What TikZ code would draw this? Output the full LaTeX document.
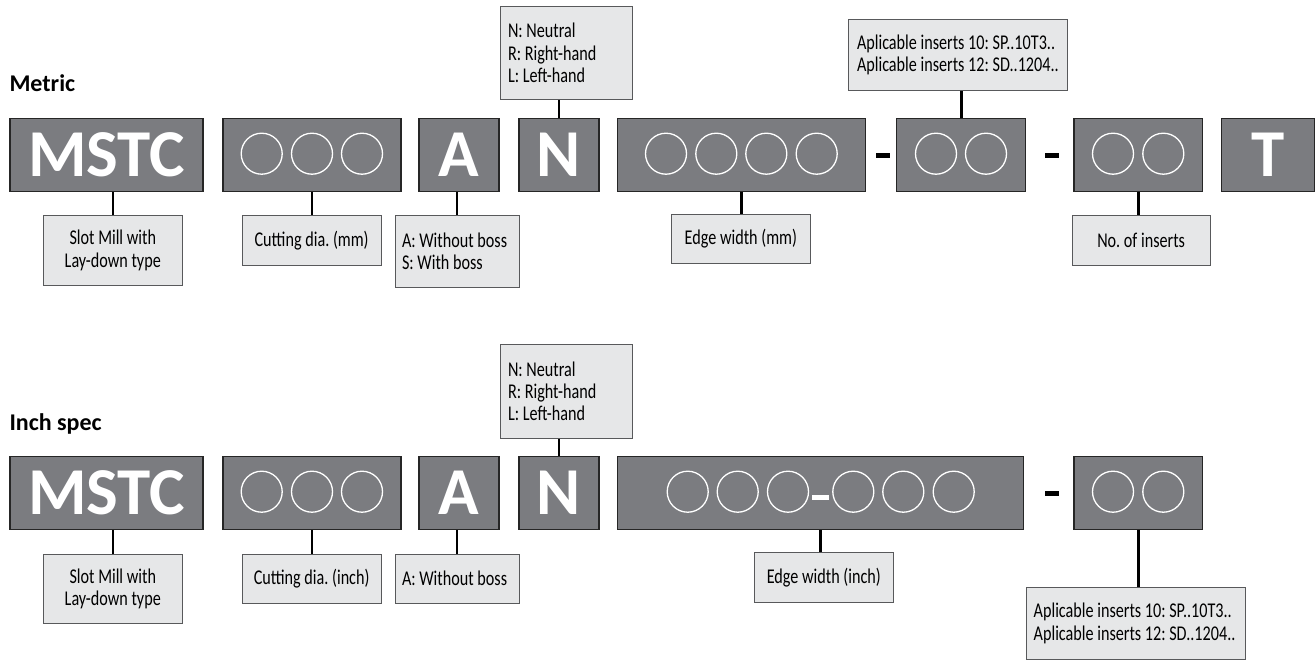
\documentclass[tikz,border=0pt]{standalone}
\usepackage{fontspec}
\setmainfont{Carlito}
\newfontfamily\lblfamily{Carlito}[FakeStretch=0.77]
\newfontfamily\bigfamily{Carlito}
\frenchspacing
\definecolor{codegray}{HTML}{7B7C80}
\definecolor{lblgray}{HTML}{E6E7E8}
\definecolor{lbledge}{HTML}{58595B}
\newcommand{\lblsetup}{\lblfamily\fontsize{21}{22.3}\selectfont}
\begin{document}
\begin{tikzpicture}[x=1pt,y=-1pt,
  code/.style={fill=codegray, draw=black!85, line width=1.2pt, inner sep=0pt, text=white,
    font=\bigfamily\bfseries\fontsize{67}{67}\selectfont, minimum height=73.4pt},
  lbl/.style={fill=lblgray, draw=lbledge, line width=1pt, inner sep=0pt,
    font=\lblsetup, align=center},
  lbltext/.style={inner sep=0pt, font=\lblsetup, align=left, anchor=west},
  conn/.style={line width=2.6pt, black},
  slot/.style={draw=white, line width=1.3pt},
  hy/.style={line width=5pt, black},
  hyw/.style={line width=5pt, white},
  title/.style={anchor=base west, inner sep=0pt, font=\bfseries\fontsize{24}{24}\selectfont}]
\useasboundingbox (0,0) rectangle (1316,664);
\fill[white] (0,0) rectangle (1316,664);

% ---------------- Metric ----------------
\node[title] (t1) at (9.3,91.7) {Metric};

\node[code, minimum width=193pt]   (m1) at (106.5,155) {MSTC};
\node[code, minimum width=178pt]   (m2) at (312,155) {};
\node[code, minimum width=80pt]    (m3) at (459,155) {A};
\node[code, minimum width=80pt]    (m4) at (559,155) {N};
\node[code, minimum width=247.6pt] (m5) at (741.5,155) {};
\node[code, minimum width=129pt]   (m6) at (961.2,155) {};
\node[code, minimum width=128.7pt] (m7) at (1138.35,155) {};
\node[code, minimum width=93pt]    (m8) at (1268.2,155) {T};

\foreach \x in {261.7,312,362,666,716.3,766.3,816.7,936,986,1113,1163.3}
  \draw[slot] (\x,153.7) circle[radius=20.5pt];
\draw[hy] (876,155.8) -- (890,155.8);
\draw[hy] (1045,155.8) -- (1059,155.8);

\node[lbl, minimum width=139pt, minimum height=70.7pt] (l1) at (112.8,250.35) {Slot Mill with\\Lay-down type};
\node[lbl, minimum width=138.7pt, minimum height=49.7pt] (l2) at (311.65,240.15) {Cutting dia. (mm)};
\node[lbl, minimum width=123.7pt, minimum height=72pt] (l3) at (457.15,251) {};
\node[lbltext] (l3t) at ([xshift=7pt]l3.west) {A: Without boss\\S: With boss};
\node[lbl, minimum width=132pt, minimum height=93pt] (l4) at (566.3,52.8) {};
\node[lbltext] (l4t) at ([xshift=8pt]l4.west) {N: Neutral\\R: Right-hand\\L: Left-hand};
\node[lbl, minimum width=138.3pt, minimum height=48.6pt] (l5) at (740.85,239) {Edge width (mm)};
\node[lbl, minimum width=219pt, minimum height=71pt] (l6) at (957.8,55.2) {};
\node[lbltext] (l6t) at ([xshift=9pt]l6.west) {Aplicable inserts 10: SP..10T3..\\Aplicable inserts 12: SD..1204..};
\node[lbl, minimum width=138.3pt, minimum height=49.3pt] (l7) at (1141.15,240.35) {No. of inserts};

\draw[conn] (l1.north) -- (l1.north |- m1.south);
\draw[conn] (m2.south) -- (m2.south |- l2.north);
\draw[conn] (l3.north) -- (l3.north |- m3.south);
\draw[conn] (m4.north) -- (m4.north |- l4.south);
\draw[conn] (m5.south) -- (m5.south |- l5.north);
\draw[conn] (m6.north) -- (m6.north |- l6.south);
\draw[conn] (m7.south) -- (m7.south |- l7.north);

% ---------------- Inch spec ----------------
\node[title] (t2) at (9.3,430) {Inch spec};

\node[code, minimum width=193pt]   (i1) at (106.5,493) {MSTC};
\node[code, minimum width=178pt]   (i2) at (312,493) {};
\node[code, minimum width=80pt]    (i3) at (459,493) {A};
\node[code, minimum width=80pt]    (i4) at (559,493) {N};
\node[code, minimum width=406pt]   (i5) at (820.7,493) {};
\node[code, minimum width=128.7pt] (i6) at (1138.35,493) {};

\foreach \x in {261.7,312,362,687.7,737.7,788,853.3,903.3,953.7,1113,1163.3}
  \draw[slot] (\x,491.7) circle[radius=20.5pt];
\draw[hyw] (812.3,497) -- (829,497);
\draw[hy] (1045,493.7) -- (1059,493.7);

\node[lbl, minimum width=139pt, minimum height=69.7pt] (k1) at (112.8,588.85) {Slot Mill with\\Lay-down type};
\node[lbl, minimum width=138.7pt, minimum height=49pt] (k2) at (311.65,578.5) {Cutting dia. (inch)};
\node[lbl, minimum width=123.7pt, minimum height=49pt] (k3) at (457.15,578.5) {};
\node[lbltext] (k3t) at ([xshift=7pt]k3.west) {A: Without boss};
\node[lbl, minimum width=132pt, minimum height=93.7pt] (k4) at (566.3,391.15) {};
\node[lbltext] (k4t) at ([xshift=8pt]k4.west) {N: Neutral\\R: Right-hand\\L: Left-hand};
\node[lbl, minimum width=139pt, minimum height=49.3pt] (k5) at (823.8,577.35) {Edge width (inch)};
\node[lbl, minimum width=219.4pt, minimum height=71.6pt] (k6) at (1136,623.5) {};
\node[lbltext] (k6t) at ([xshift=7.7pt]k6.west) {Aplicable inserts 10: SP..10T3..\\Aplicable inserts 12: SD..1204..};

\draw[conn] (k1.north) -- (k1.north |- i1.south);
\draw[conn] (i2.south) -- (i2.south |- k2.north);
\draw[conn] (k3.north) -- (k3.north |- i3.south);
\draw[conn] (i4.north) -- (i4.north |- k4.south);
\draw[conn] (i5.south) -- (i5.south |- k5.north);
\draw[conn] (i6.south) -- (i6.south |- k6.north);
\end{tikzpicture}
\end{document}
